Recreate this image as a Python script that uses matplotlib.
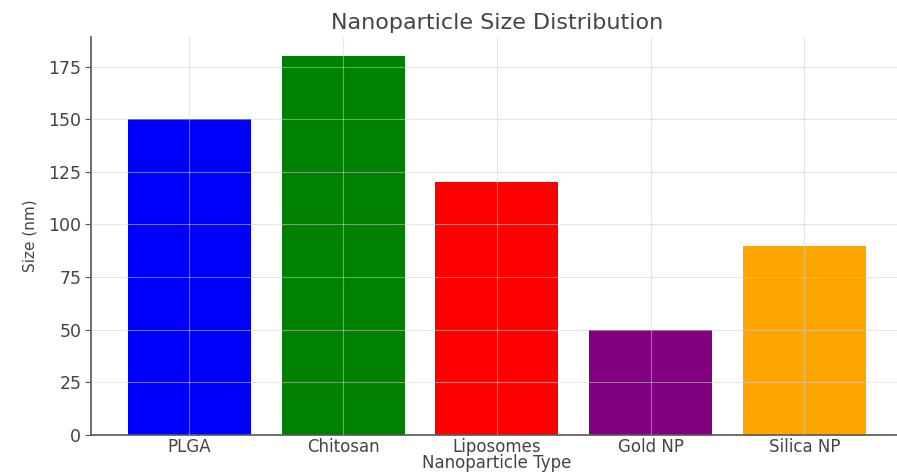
import matplotlib
matplotlib.use("Agg")
import matplotlib.pyplot as plt

# Mean particle size per formulation (nm)
particle_types = ["PLGA", "Chitosan", "Liposomes", "Gold NP", "Silica NP"]
sizes_nm = [150, 180, 120, 50, 90]
bar_colors = ["blue", "green", "red", "purple", "orange"]

fig = plt.figure(figsize=(8.97, 4.72), dpi=100)
ax = fig.add_axes([0.1015, 0.0784, 0.905, 0.843])

ax.bar(particle_types, sizes_nm, color=bar_colors, width=0.8, zorder=1)

ax.set_yticks([0, 25, 50, 75, 100, 125, 150, 175])
ax.grid(True, color="#d0d0d0", alpha=0.5, linewidth=0.8, zorder=2)
ax.set_axisbelow(False)

for side in ("top", "right"):
    ax.spines[side].set_visible(False)
for side in ("left", "bottom"):
    ax.spines[side].set_color("#555555")
    ax.spines[side].set_linewidth(1.2)

ax.tick_params(axis="y", colors="#555555", labelsize=12.5, length=4, width=0.8, pad=3)
ax.tick_params(axis="x", colors="#555555", labelsize=12, length=0, pad=2)
for lbl in ax.get_xticklabels() + ax.get_yticklabels():
    lbl.set_color("#444444")

ax.set_title("Nanoparticle Size Distribution", fontsize=16, color="#444444", pad=6)
ax.set_xlabel("Nanoparticle Type", fontsize=12, color="#444444", labelpad=-1)
ax.set_ylabel("Size (nm)", fontsize=11,
              family=["Liberation Sans Narrow", "DejaVu Sans"],
              color="#444444", labelpad=8)

fig.savefig("out.png", dpi=100)
